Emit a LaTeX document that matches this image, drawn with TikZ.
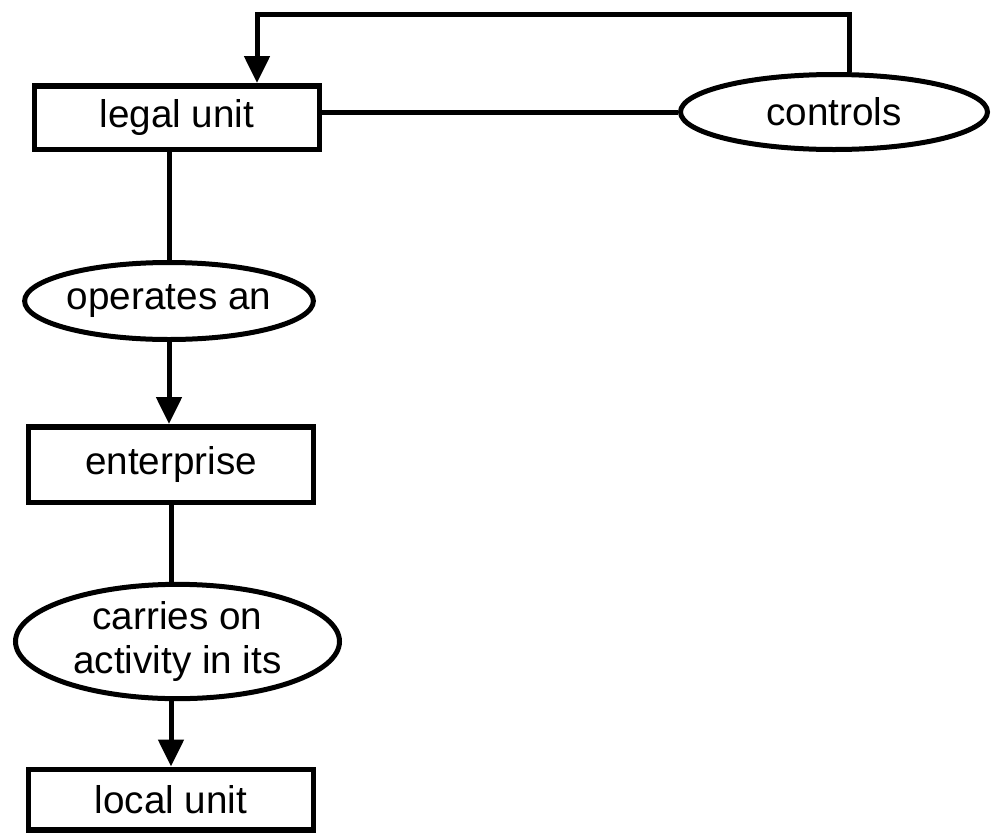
\documentclass[tikz,border=0pt]{standalone}
\usepackage{fontspec}
\setmainfont{Liberation Sans}
\usetikzlibrary{shapes.geometric, arrows.meta, positioning, calc}

\begin{document}
\begin{tikzpicture}[
    unit/.style={rectangle, draw, line width=0.11cm, minimum width=5.69cm, minimum height=1.27cm, inner sep=0pt, font=\fontsize{22}{25.5}\selectfont},
    relation/.style={ellipse, draw, line width=0.1cm, inner sep=0pt, align=center, font=\fontsize{22}{25.5}\selectfont},
    link/.style={line width=0.1cm},
    flow/.style={line width=0.1cm, -{Triangle[length=0.54cm, width=0.5cm]}}
]
\useasboundingbox (0, 0) rectangle (19.82, -16.68);

% Units
\node[unit] (legal) at (3.54, -2.35) {legal unit};
\node[unit, minimum height=1.51cm] (enterprise) at (3.42, -9.29) {enterprise};
\node[unit, minimum height=1.21cm] (local) at (3.42, -15.99) {local unit};

% Relations
\node[relation, minimum width=6.14cm, minimum height=1.5cm] (controls) at (16.68, -2.24) {controls};
\node[relation, minimum width=5.66cm, minimum height=1.54cm] (operates) at (3.38, -6.02) {operates an};
\node[relation, minimum width=6.48cm, minimum height=2.16cm] (carries) at (3.55, -12.83) {carries on\\activity in its};

% Links
\draw[link] (legal.east |- controls.west) -- (controls.west);
\draw[flow] ([xshift=0.3cm]controls.north) -- ++(0, 1.15) -| ([xshift=1.6cm]legal.north);
\draw[link] (operates.north |- legal.south) -- (operates.north);
\draw[flow] (operates.south) -- (operates.south |- enterprise.north);
\draw[link] (enterprise.south) -- (enterprise.south |- carries.north);
\draw[flow] (local.north |- carries.south) -- (local.north);

\end{tikzpicture}
\end{document}
